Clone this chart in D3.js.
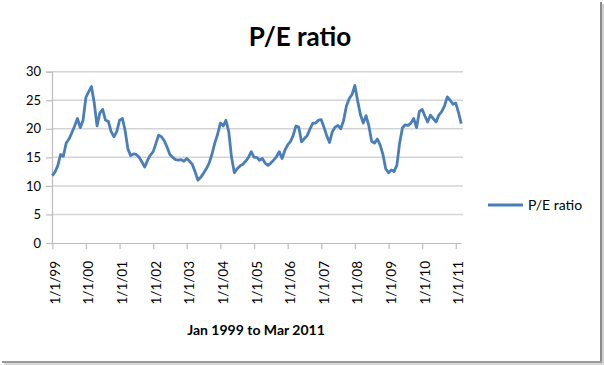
<!DOCTYPE html>
<html><head><meta charset="utf-8">
<script src="https://cdn.jsdelivr.net/npm/d3@7"></script>
<style>body{margin:0;background:#fff}svg{display:block}</style>
</head><body>
<svg id="c" width="604" height="365"></svg>
<script>
const title = "P/E ratio";
const seriesName = "P/E ratio";
const xAxisTitle = "Jan 1999 to Mar 2011";
const startYear = 1999, startMonth = 0;
// monthly P/E values, Jan 1999 .. Mar 2011
const peValues = [
 11.8,12.5,13.5,15.5,15.2,17.5,18.2,19.3,20.5,21.8,20.2,21.5,
 25.5,26.5,27.4,24.5,20.5,22.8,23.4,21.5,21.3,19.5,18.6,19.5,
 21.5,21.8,19.8,16.5,15.3,15.6,15.5,15.0,14.2,13.3,14.5,15.4,
 16.0,17.5,18.9,18.6,17.9,16.8,15.5,15.0,14.6,14.5,14.6,14.3,
 14.8,14.3,13.8,12.5,11.0,11.5,12.2,13.0,14.0,15.5,17.5,19.0,
 21.0,20.5,21.5,19.5,15.0,12.3,13.0,13.5,13.8,14.3,15.0,16.0,
 15.0,15.0,14.5,14.8,14.0,13.6,14.0,14.5,15.1,16.0,14.8,16.2,
 17.2,17.8,18.8,20.5,20.3,17.7,18.3,18.8,20.0,21.0,21.0,21.5,
 21.6,20.2,18.8,17.6,19.5,20.3,20.6,20.0,21.5,24.0,25.3,26.0,
 27.6,24.8,22.5,21.0,22.3,20.5,17.8,17.5,18.2,17.2,15.5,13.0,
 12.3,12.8,12.5,13.6,17.5,20.2,20.7,20.6,21.0,21.8,20.2,23.0,
 23.4,22.2,21.2,22.4,21.8,21.2,22.4,23.0,24.0,25.6,25.0,24.3,
 24.5,22.8,20.9
];
const yTicks = [0,5,10,15,20,25,30];
const xTickYears = [1999,2000,2001,2002,2003,2004,2005,2006,2007,2008,2009,2010,2011];

const data = peValues.map((v,i)=>({date:new Date(startYear, startMonth+i, 1), v}));
const svg = d3.select("#c");
const font = "Lato, 'Open Sans', sans-serif";

// thumbnail frame shadow
svg.append("rect").attr("x",600).attr("y",2).attr("width",2).attr("height",360).attr("fill","#8a8a8a");
svg.append("rect").attr("x",602).attr("y",4).attr("width",2).attr("height",360).attr("fill","#d0d0d0");
svg.append("rect").attr("x",2).attr("y",361).attr("width",600).attr("height",2).attr("fill","#9a9a9a");
svg.append("rect").attr("x",4).attr("y",363).attr("width",600).attr("height",2).attr("fill","#d8d8d8");

const x = d3.scaleTime().domain([new Date(1999,0,1), new Date(2011,2,1)]).range([52.3, 461.2]);
const y = d3.scaleLinear().domain([0,30]).range([243,71.7]);

// gridlines
svg.append("g").selectAll("line").data(yTicks.filter(d=>d>0)).join("line")
  .attr("x1",52).attr("x2",463).attr("y1",d=>y(d)).attr("y2",d=>y(d))
  .attr("stroke","#d4d4d4").attr("stroke-width",1.5);

// y axis
const ya = svg.append("g").attr("transform","translate(52,0)")
  .call(d3.axisLeft(y).tickValues(yTicks).tickSize(6).tickPadding(5));
ya.select(".domain").attr("stroke","#bdbdbd").attr("stroke-width",1.2);
ya.selectAll(".tick line").attr("stroke","#bdbdbd").attr("stroke-width",1.2);
ya.selectAll("text").attr("font-family",font).attr("font-size",13).attr("fill","#000");

// x axis
const xa = svg.append("g").attr("transform",`translate(0,${y(0)})`)
  .call(d3.axisBottom(x).tickValues(xTickYears.map(yr=>new Date(yr,0,1)))
    .tickFormat(d=>"1/1/"+String(d.getFullYear()).slice(2)).tickSize(6).tickSizeOuter(0));
xa.select(".domain").attr("stroke","#bdbdbd").attr("stroke-width",1.2);
xa.selectAll(".tick line").attr("stroke","#bdbdbd").attr("stroke-width",1.2);
xa.selectAll("text").attr("font-family",font).attr("font-size",13.5).attr("fill","#000")
  .attr("text-anchor","end").attr("transform","translate(7,18) rotate(-90)")
  .attr("dy","0").attr("y",0).attr("x",0);

// line
svg.append("path").datum(data)
  .attr("fill","none").attr("stroke","#4a7ebb").attr("stroke-width",2.8)
  .attr("stroke-linejoin","round")
  .attr("d", d3.line().x(d=>x(d.date)).y(d=>y(d.v)));

// title
svg.append("text").attr("x",300).attr("y",46).attr("text-anchor","middle")
  .attr("font-family",font).attr("font-weight","bold").attr("font-size",26).text(title);

// x axis title
svg.append("text").attr("x",256).attr("y",335).attr("text-anchor","middle")
  .attr("font-family",font).attr("font-weight","bold").attr("font-size",14).text(xAxisTitle);

// legend
svg.append("line").attr("x1",488).attr("x2",523).attr("y1",205).attr("y2",205)
  .attr("stroke","#4a7ebb").attr("stroke-width",2.8);
svg.append("text").attr("x",528).attr("y",210).attr("font-family",font)
  .attr("font-size",14).text(seriesName);
</script>
</body></html>
